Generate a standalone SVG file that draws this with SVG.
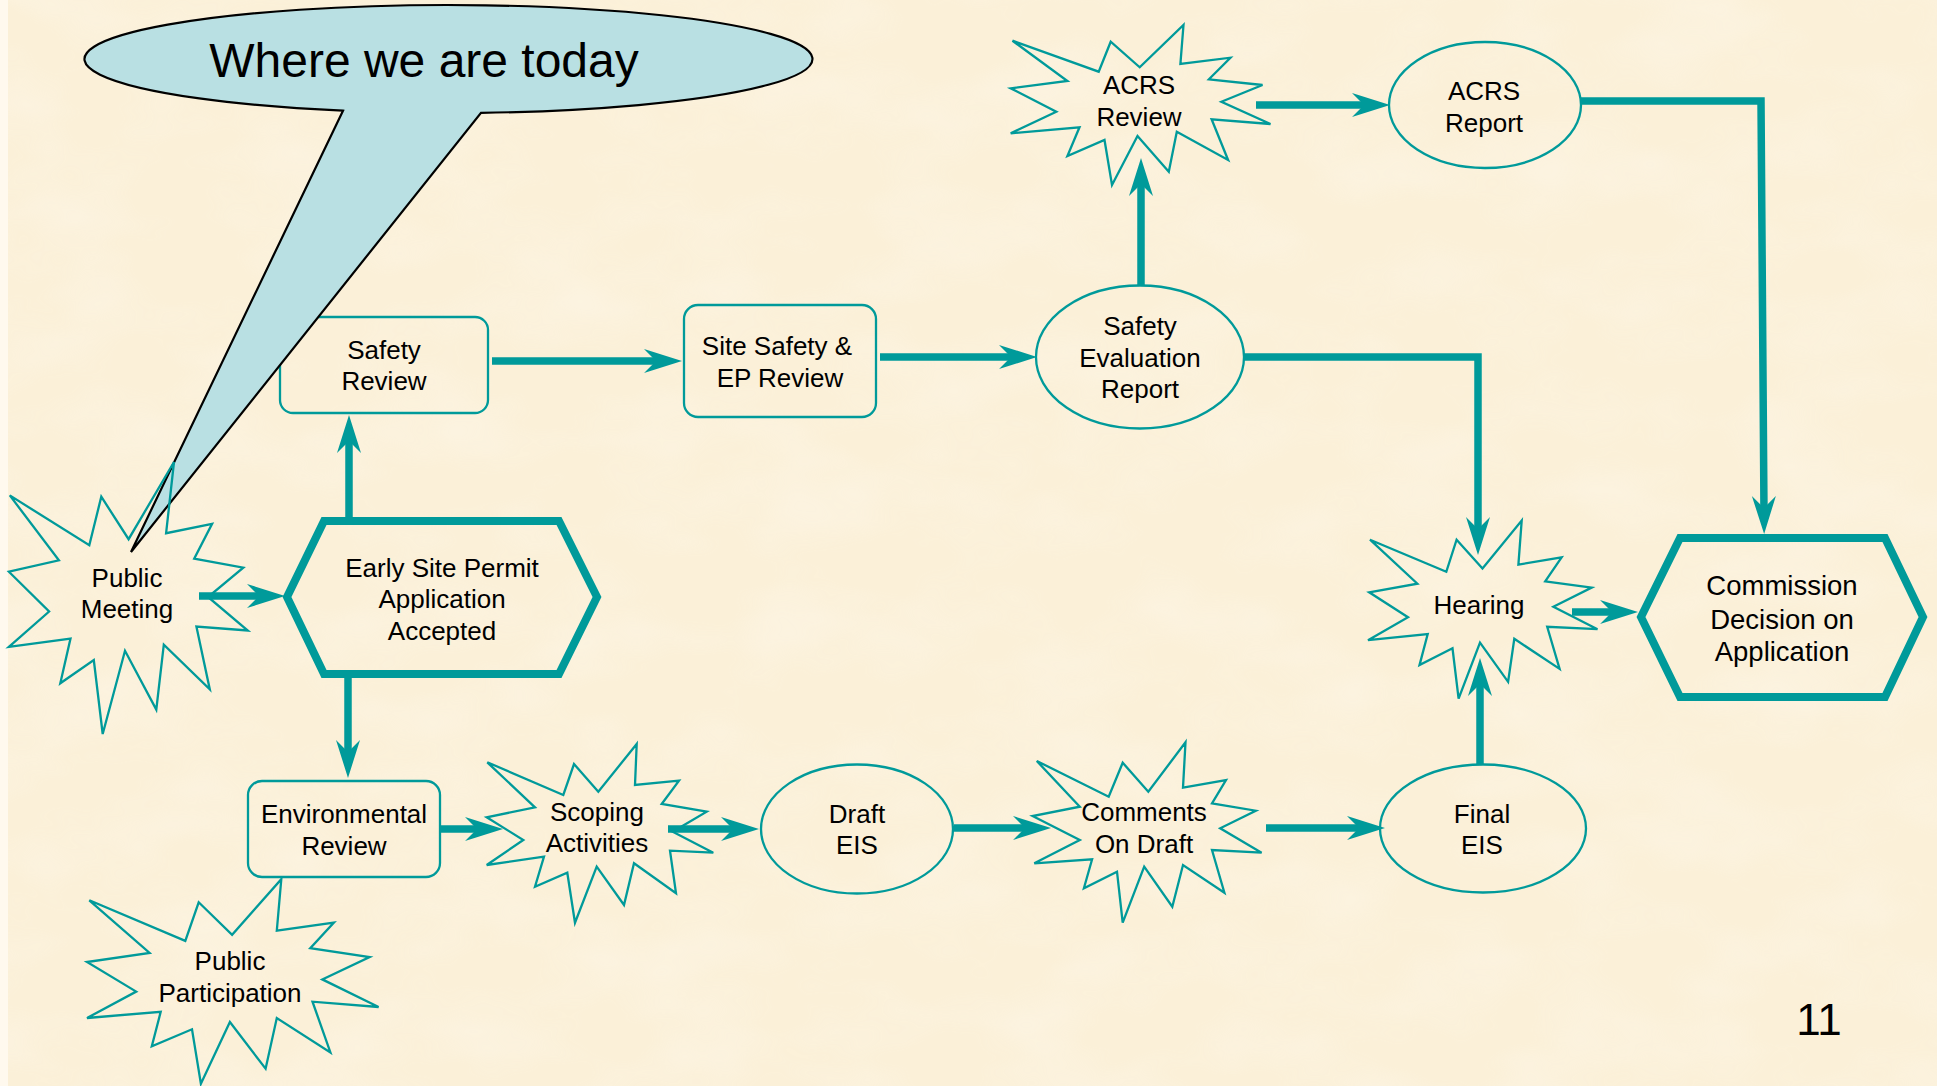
<svg xmlns="http://www.w3.org/2000/svg" width="1937" height="1086" viewBox="0 0 1937 1086">
<defs>
<filter id="paper" x="0" y="0" width="100%" height="100%">
<feTurbulence type="fractalNoise" baseFrequency="0.008 0.015" numOctaves="3" seed="7"/>
<feColorMatrix type="matrix" values="0 0 0 0 1  0 0 0 0 0.98  0 0 0 0 0.94  0 0 0 0.9 -0.35"/>
</filter>
<marker id="ah" markerUnits="userSpaceOnUse" markerWidth="60" markerHeight="40" refX="38" refY="20" orient="auto" overflow="visible">
<path d="M58,20 L20,8 L32,20 L20,32 Z" fill="#009A9A"/>
</marker>
<style>
.txt{font-family:"Liberation Sans",Arial,sans-serif;font-size:26px;fill:#000;text-anchor:middle}
.big{font-size:27.5px}
.thin{fill:none;stroke:#009A9A;stroke-width:2.3}
.box{fill:none;stroke:#009A9A;stroke-width:2.3}
.hex{fill:none;stroke:#009A9A;stroke-width:8;stroke-linejoin:miter}
.con{fill:none;stroke:#009A9A;stroke-width:7.5;marker-end:url(#ah)}
</style>
</defs>
<rect x="0" y="0" width="1937" height="1086" fill="#FBF0D8"/>
<rect x="0" y="0" width="1937" height="1086" filter="url(#paper)" opacity="0.55"/>
<rect x="0" y="0" width="8" height="1086" fill="#FFF9EE"/>

<g id="safety-review">
<rect class="box" x="280" y="317" width="208" height="96" rx="13"/>
<text class="txt" x="384" y="359">Safety</text>
<text class="txt" x="384" y="390">Review</text>
</g>
<g id="site-safety-ep-review">
<rect class="box" x="684" y="305" width="192" height="112" rx="14"/>
<text class="txt" x="777" y="355">Site Safety &amp;</text>
<text class="txt" x="780" y="387">EP Review</text>
</g>
<g id="early-site-permit">
<polygon class="hex" points="287,597 324,521 559,521 597,597 559,674 324,674"/>
<text class="txt" x="442" y="577">Early Site Permit</text>
<text class="txt" x="442" y="608">Application</text>
<text class="txt" x="442" y="640">Accepted</text>
</g>
<g id="safety-evaluation-report">
<ellipse class="thin" cx="1140" cy="357" rx="104" ry="71.5"/>
<text class="txt" x="1140" y="335">Safety</text>
<text class="txt" x="1140" y="367">Evaluation</text>
<text class="txt" x="1140" y="398">Report</text>
</g>
<g id="acrs-review">
<polygon class="thin" points="1012.5,40.7 1098.7,71.7 1110.7,41.7 1139.7,67.3 1183.5,25 1180.4,64 1230.4,57.7 1208.9,79.3 1262.5,85 1221.4,101.7 1270.5,124 1211.6,119.3 1228.1,160 1176.8,131.7 1168.8,171.7 1137.5,136 1112,185 1104.5,140 1067.4,156 1079.5,127.3 1010.7,133.3 1056.3,111.7 1010.7,88.3 1067.4,81"/>
<text class="txt" x="1139" y="94">ACRS</text>
<text class="txt" x="1139" y="126">Review</text>
</g>
<g id="acrs-report">
<ellipse class="thin" cx="1485" cy="105" rx="96" ry="63"/>
<text class="txt" x="1484" y="100">ACRS</text>
<text class="txt" x="1484" y="132">Report</text>
</g>
<g id="hearing">
<polygon class="thin" points="1370,539.7 1446.3,571.8 1456.6,539.7 1482.5,568.4 1521.7,520.6 1518.4,564.6 1561.6,557.4 1545.2,581.3 1591.7,587.6 1553.4,606.7 1597.5,629.2 1547.2,626.8 1559.6,668.9 1514.3,638.8 1508.1,681.8 1480,642.6 1458.6,698.6 1452.5,648.3 1419.5,665.1 1427.7,634 1368,640.2 1408,617.2 1369.2,592.3 1417.4,583.7"/>
<text class="txt" x="1479" y="614">Hearing</text>
</g>
<g id="commission-decision">
<polygon class="hex" points="1641,617 1680,538 1885,538 1923,617 1885,697 1680,697"/>
<text class="txt big" x="1782" y="595">Commission</text>
<text class="txt big" x="1782" y="629">Decision on</text>
<text class="txt big" x="1782" y="661">Application</text>
</g>
<g id="environmental-review">
<rect class="box" x="248" y="781" width="192" height="96" rx="14"/>
<text class="txt" x="344" y="823">Environmental</text>
<text class="txt" x="344" y="855">Review</text>
</g>
<g id="scoping-activities">
<polygon class="thin" points="487.3,762.3 563.3,795 574,764 598.3,791.7 636.7,744 635,785 679,780.7 661.7,804 706.7,811.7 672.7,831.7 713.3,852.7 670,850.7 676,893.3 634,863.3 624,905 596.7,866.7 575,922.7 567.3,872.7 535,886.7 544,856.7 486.7,865 523.3,840 486.7,817.3 535,807.3"/>
<text class="txt" x="597" y="821">Scoping</text>
<text class="txt" x="597" y="852">Activities</text>
</g>
<g id="public-participation">
<polygon class="thin" points="89.3,900.3 185.3,940.9 198.7,902.3 232.1,934.8 281.3,879.2 276.8,930.7 333.9,922.6 310.3,948.2 369.6,957.1 322.3,979.4 378.6,1007 312.5,1001.7 330.4,1052.4 276.8,1018 265.6,1068.7 229.9,1022 200.9,1083.7 192,1029.3 151.8,1046.3 160.7,1011.9 87,1018 136.2,991.6 87,962 149.6,953"/>
<text class="txt" x="230" y="970">Public</text>
<text class="txt" x="230" y="1002">Participation</text>
</g>
<g id="draft-eis">
<ellipse class="thin" cx="857" cy="829" rx="96" ry="64.5"/>
<text class="txt" x="857" y="823">Draft</text>
<text class="txt" x="857" y="854">EIS</text>
</g>
<g id="comments-on-draft">
<polygon class="thin" points="1036.8,761 1108.7,796.7 1122.7,762.7 1148.3,791.7 1185.5,742.3 1183,787.7 1226,780 1212,803.3 1255.8,810.7 1220.2,828.3 1261.6,852.7 1212,850 1224.4,892.7 1183,865 1172.3,906.7 1144.2,866.7 1122.7,922.7 1117,871.7 1083.9,888.3 1092.1,859.3 1034.3,863.3 1079.8,840 1032.6,816 1079.8,806.7"/>
<text class="txt" x="1144" y="821">Comments</text>
<text class="txt" x="1144" y="853">On Draft</text>
</g>
<g id="final-eis">
<ellipse class="thin" cx="1483" cy="828.5" rx="103" ry="64"/>
<text class="txt" x="1482" y="823">Final</text>
<text class="txt" x="1482" y="854">EIS</text>
</g>

<g id="callout">
<path d="M343,110.7 L131,552 L481,112.8 A364,54 0 1 0 343,110.7 Z" fill="#B9E0E3" stroke="#000" stroke-width="2.2" stroke-linejoin="miter"/>
<text x="424" y="77" font-family="'Liberation Sans',Arial,sans-serif" font-size="48" text-anchor="middle" fill="#000">Where we are today</text>
</g>

<g id="public-meeting">
<polygon class="thin" points="9.8,495.4 89.3,545.3 101.3,496.7 128.6,539.2 174,462 166.1,533.2 212.1,523.8 194.2,558.7 243.3,567.6 208,597 247.8,630.5 196.4,626.5 209.8,689.4 163.8,644.7 156.3,709.6 125,650.8 102.7,734 93.8,660.1 60.3,683.3 70.5,638.6 8.9,646.8 49.1,611.5 8.9,571.7 58.9,560.3"/>
<text class="txt" x="127" y="587">Public</text>
<text class="txt" x="127" y="618">Meeting</text>
</g>

<g id="connectors">
<path class="con" d="M199,596 H265"/>
<path class="con" d="M349,521 V435"/>
<path class="con" d="M348,678 V758"/>
<path class="con" d="M492,361 H662"/>
<path class="con" d="M880,357 H1017"/>
<path class="con" d="M1141,285 V178"/>
<path class="con" d="M1256,105 H1370"/>
<path class="con" d="M1580,101 H1761 L1764,514"/>
<path class="con" d="M1244,357 H1478 V535"/>
<path class="con" d="M1572,612 H1618"/>
<path class="con" d="M1480,764 V678"/>
<path class="con" d="M441,829 H483"/>
<path class="con" d="M668,829 H739"/>
<path class="con" d="M954,828 H1031"/>
<path class="con" d="M1266,828 H1365"/>
</g>

<text x="1819" y="1035" font-family="'Liberation Sans',Arial,sans-serif" font-size="44" text-anchor="middle" fill="#000">11</text>
</svg>
